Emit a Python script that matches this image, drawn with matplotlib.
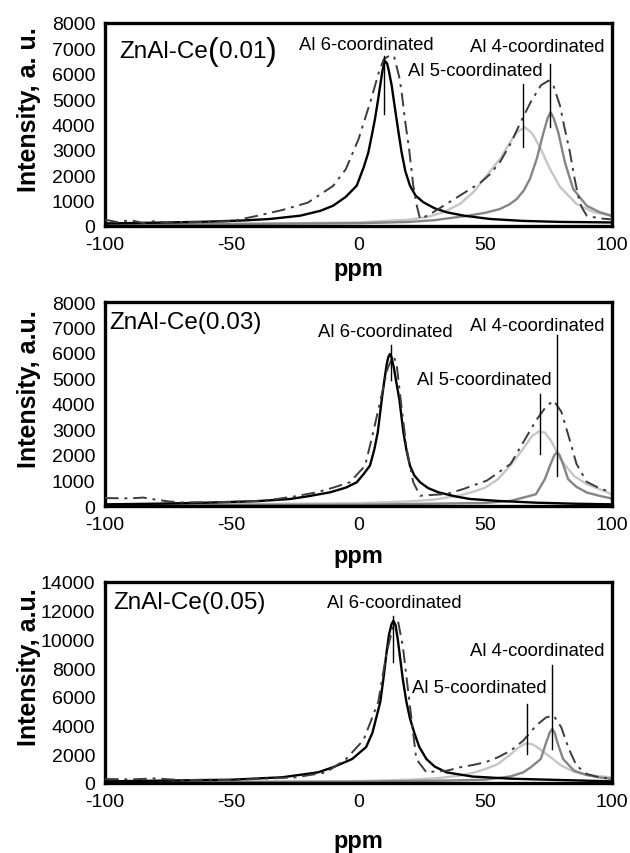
import matplotlib
matplotlib.use("Agg")
import matplotlib.pyplot as plt

plt.rcParams['font.family'] = ['Liberation Sans', 'DejaVu Sans']
plt.rcParams['axes.unicode_minus'] = False

# ---------------- data ----------------
x_ticks = [-100, -50, 0, 50, 100]
labels_site = ["Al 6-coordinated", "Al 5-coordinated", "Al 4-coordinated"]

# Panel 1: ZnAl-Ce(0.01)
p1_name = ["ZnAl-Ce", "0.01"]
p1_yticks = [0, 1000, 2000, 3000, 4000, 5000, 6000, 7000, 8000]
p1_x_al6 = [-100, -80, -60, -45, -35, -23, -15, -10, -5, -0.7, 2, 3.9, 5.3, 6.5, 7.6, 8.5, 9.5, 10.4, 11.3, 12, 13.1, 14, 15, 16, 17, 18.5, 20.3, 22.5, 25.6, 30, 34.8, 42, 52, 65, 80, 100]
p1_y_al6 = [100, 130, 170, 220, 276, 406, 600, 800, 1150, 1590, 2300, 2904, 3600, 4217, 4900, 5500, 6150, 6510, 6400, 6100, 5530, 4900, 4217, 3550, 2904, 2150, 1590, 1200, 934, 700, 540, 400, 276, 200, 160, 140]
p1_x_al5 = [-100, -50, 0, 20, 26.9, 33.5, 40, 45.3, 50.5, 55.8, 59.8, 62.5, 65.7, 68.5, 71.6, 75.5, 79.5, 86, 92.6, 100]
p1_y_al5 = [60, 80, 140, 250, 350, 540, 870, 1330, 1980, 2640, 3300, 3700, 3890, 3650, 3100, 2250, 1540, 870, 550, 400]
p1_x_al4 = [-100, -50, 0, 20, 30, 42.7, 50, 55.8, 59.5, 62.4, 65.2, 67.6, 70.3, 73, 74.6, 75.8, 77, 78.8, 81.5, 84.7, 90, 95, 100]
p1_y_al4 = [70, 80, 110, 160, 230, 400, 520, 670, 850, 1060, 1400, 1850, 2640, 3690, 4250, 4480, 4250, 3690, 2480, 1460, 800, 550, 400]
p1_x_exp = [-100, -95, -90, -85, -80, -75, -70, -60, -50, -40, -30, -20, -10, -5, 0, 5, 8, 10, 12, 14, 16, 17, 18.3, 20, 21.6, 23, 24.3, 28, 32, 36, 40, 44, 48, 52, 56, 60, 64, 68, 72, 75, 77, 79.5, 81, 83.4, 85, 86.6, 88, 90, 95, 100]
p1_y_exp = [250, 150, 230, 120, 200, 110, 150, 160, 190, 400, 630, 920, 1580, 2240, 3420, 5000, 6050, 6580, 6700, 6700, 5900, 5300, 4200, 3000, 1600, 800, 280, 450, 700, 950, 1200, 1450, 1700, 2050, 2550, 3250, 4100, 4900, 5550, 5730, 5500, 4740, 4000, 2910, 2000, 1200, 750, 410, 300, 260]
p1_peak_x = [10.06, 65.0, 75.6]
p1_peak_lo = [4414, 3100, 3900]
p1_peak_hi = [6700, 5600, 6400]

# Panel 2: ZnAl-Ce(0.03)
p2_name = ["ZnAl-Ce", "0.03"]
p2_yticks = [0, 1000, 2000, 3000, 4000, 5000, 6000, 7000, 8000]
p2_x_al6 = [-100, -80, -60, -40, -27, -20, -11.2, -5, -0.7, 2, 4.5, 6.2, 7.6, 9.2, 10.3, 11.2, 11.8, 12.4, 13, 14, 15, 16.1, 17.7, 19, 20.3, 22, 24.3, 27.5, 31.5, 38, 44, 55, 70, 85, 100]
p2_y_al6 = [65, 90, 130, 190, 275, 380, 537, 720, 930, 1250, 1580, 2200, 2890, 4196, 5000, 5600, 5850, 5960, 5850, 5400, 4800, 4196, 2890, 2150, 1580, 1200, 930, 700, 537, 380, 275, 200, 130, 90, 65]
p2_x_al5 = [-100, -50, 0, 20, 30, 40, 45, 50, 55, 60, 65, 68.5, 71.2, 73.5, 76, 80, 85, 90, 100]
p2_y_al5 = [50, 70, 110, 180, 250, 420, 550, 720, 1050, 1600, 2250, 2750, 2920, 2880, 2550, 1780, 1180, 860, 460]
p2_x_al4 = [-100, -50, 0, 50, 60, 70, 73.5, 76, 77.3, 78.3, 79.3, 80.5, 82.7, 86, 90, 95, 100]
p2_y_al4 = [40, 45, 50, 120, 200, 460, 1050, 1700, 2000, 2100, 2000, 1700, 1050, 750, 530, 400, 290]
p2_x_exp = [-100, -90, -85, -80, -75, -70, -60, -50, -40, -32.3, -25, -16.5, -10, -3.4, 2.6, 5.8, 9, 11.5, 13.7, 15, 16.6, 19, 21.6, 24.3, 30, 34.8, 41.4, 45, 50.6, 55, 60, 65, 70, 74, 77, 80, 83, 86, 90, 95, 100]
p2_y_exp = [310, 300, 330, 250, 180, 140, 150, 160, 200, 275, 380, 537, 720, 930, 1580, 2890, 4300, 5400, 5890, 5600, 4196, 2235, 930, 404, 440, 470, 667, 800, 994, 1300, 1650, 2500, 3350, 3900, 4130, 3700, 2700, 1650, 950, 700, 530]
p2_peak_x = [12.8, 71.5, 78.3]
p2_peak_lo = [4950, 2040, 1180]
p2_peak_hi = [6300, 4410, 6710]

# Panel 3: ZnAl-Ce(0.05)
p3_name = ["ZnAl-Ce", "0.05"]
p3_yticks = [0, 2000, 4000, 6000, 8000, 10000, 12000, 14000]
p3_x_al6 = [-100, -75, -50, -30, -16, -10, -2.5, 3, 5.5, 8.6, 10, 11, 12, 13, 13.8, 14.6, 15.5, 16.5, 17.5, 18.9, 20.3, 22, 24, 26.8, 30, 34.7, 45, 60, 75, 100]
p3_y_al6 = [115, 170, 230, 400, 740, 1100, 1670, 2500, 3500, 5650, 7500, 9000, 10300, 11050, 11300, 11000, 10000, 8600, 7200, 5650, 4500, 3500, 2500, 1670, 1150, 740, 450, 300, 230, 115]
p3_x_al5 = [-100, -50, 0, 20, 30, 40, 45, 50, 55, 60, 63, 65, 66.7, 68.5, 70, 75, 80, 85, 90, 100]
p3_y_al5 = [60, 80, 130, 230, 320, 510, 700, 970, 1320, 2000, 2450, 2680, 2760, 2700, 2550, 1900, 1210, 790, 560, 390]
p3_x_al4 = [-100, -50, 0, 30, 40, 50, 60, 65, 68, 71.9, 74, 75.4, 76.4, 77.4, 78.5, 80.7, 85, 90, 95, 100]
p3_y_al4 = [50, 70, 100, 160, 190, 230, 460, 740, 1100, 1670, 2800, 3500, 3760, 3500, 2800, 1670, 860, 560, 390, 280]
p3_x_exp = [-100, -90, -80, -70, -60, -50, -40, -25, -12.8, -4.9, 2, 7.8, 11, 13.5, 15.7, 17.5, 20.1, 22.8, 26.8, 30, 35, 40, 45, 50, 55, 60, 65, 70, 74, 77, 80, 83, 86, 90, 95, 100]
p3_y_exp = [280, 250, 320, 200, 230, 200, 280, 390, 740, 1670, 3000, 5650, 9000, 10800, 11180, 9500, 5650, 1670, 740, 800, 860, 1090, 1250, 1440, 1790, 2250, 2950, 3990, 4570, 4690, 3870, 2370, 1210, 630, 390, 320]
p3_peak_x = [13.8, 66.4, 76.2]
p3_peak_lo = [8400, 2020, 2370]
p3_peak_hi = [11600, 5500, 8210]

# ---------------- layout / style ----------------
panels = [
    dict(name=p1_name, big_paren=True, ylabel="Intensity, a. u.", yticks=p1_yticks,
         al6=(p1_x_al6, p1_y_al6), al5=(p1_x_al5, p1_y_al5), al4=(p1_x_al4, p1_y_al4),
         exp=(p1_x_exp, p1_y_exp), px=p1_peak_x, plo=p1_peak_lo, phi=p1_peak_hi,
         rect=[105/630, 1-227/854, 507/630, 203/854],
         title_pos=(-94.5, 6910),
         lab_pos=[(3.0, 7170), (46.1, 6110), (70.7, 7090)],
         ppm_y=-(270-227)/203),
    dict(name=p2_name, big_paren=False, ylabel="Intensity, a.u.", yticks=p2_yticks,
         al6=(p2_x_al6, p2_y_al6), al5=(p2_x_al5, p2_y_al5), al4=(p2_x_al4, p2_y_al4),
         exp=(p2_x_exp, p2_y_exp), px=p2_peak_x, plo=p2_peak_lo, phi=p2_peak_hi,
         rect=[105/630, 1-507/854, 507/630, 204/854],
         title_pos=(-98.4, 7200),
         lab_pos=[(10.5, 6860), (49.8, 4980), (70.7, 7060)],
         ppm_y=-(557-507)/204),
    dict(name=p3_name, big_paren=False, ylabel="Intensity, a.u.", yticks=p3_yticks,
         al6=(p3_x_al6, p3_y_al6), al5=(p3_x_al5, p3_y_al5), al4=(p3_x_al4, p3_y_al4),
         exp=(p3_x_exp, p3_y_exp), px=p3_peak_x, plo=p3_peak_lo, phi=p3_peak_hi,
         rect=[105/630, 1-784/854, 507/630, 201/854],
         title_pos=(-96.8, 12590),
         lab_pos=[(14.1, 12570), (47.7, 6660), (70.7, 9210)],
         ppm_y=-(842-784)/201),
]

fig = plt.figure(figsize=(6.3, 8.54), dpi=100)

for p in panels:
    ax = fig.add_axes(p["rect"])
    ax.plot(*p["al5"], color="#c6c6c6", lw=1.7, zorder=2)
    ax.plot(*p["al4"], color="#858585", lw=1.7, zorder=2)
    ax.plot(*p["al6"], color="black", lw=1.7, zorder=3)
    ax.plot(*p["exp"], color="#3c3c3c", lw=1.4, dashes=(7, 3, 1.5, 3), zorder=4)
    for xx, lo, hi in zip(p["px"], p["plo"], p["phi"]):
        ax.plot([xx, xx], [lo, hi], color="black", lw=1.0, zorder=5)
    for (tx, ty), s in zip(p["lab_pos"], labels_site):
        ax.text(tx, ty, s, ha="center", va="center", fontsize=13.3, zorder=6)

    # sample name
    tx, ty = p["title_pos"]
    if p["big_paren"]:
        t1 = ax.text(tx, ty, p["name"][0], fontsize=17.5, ha="left", va="center")
        t2 = ax.annotate("(", xy=(1, 0.5), xycoords=t1, ha="left", va="center", fontsize=23)
        t3 = ax.annotate(p["name"][1], xy=(1, 0.5), xycoords=t2, ha="left", va="center", fontsize=17.5)
        ax.annotate(")", xy=(1, 0.5), xycoords=t3, ha="left", va="center", fontsize=23)
    else:
        ax.text(tx, ty, p["name"][0] + "(" + p["name"][1] + ")", fontsize=17.5, ha="left", va="center")

    ax.set_xlim(-100, 100)
    ax.set_ylim(0, p["yticks"][-1])
    ax.set_xticks(x_ticks)
    ax.set_yticks(p["yticks"])
    ax.tick_params(axis="both", length=0, labelsize=14)
    ax.tick_params(axis="y", pad=7)
    ax.tick_params(axis="x", pad=7.5)
    for s in ax.spines.values():
        s.set_linewidth(2.4)

    ax.set_xlabel("ppm", fontsize=17, fontweight="bold")
    ax.xaxis.set_label_coords(0.5, p["ppm_y"])
    ax.xaxis.label.set_verticalalignment("center")
    ax.set_ylabel(p["ylabel"], fontsize=18, fontweight="bold")
    ax.yaxis.set_label_coords(-0.15, 0.58)
    ax.yaxis.label.set_verticalalignment("center")

fig.savefig("out.png", dpi=100)
